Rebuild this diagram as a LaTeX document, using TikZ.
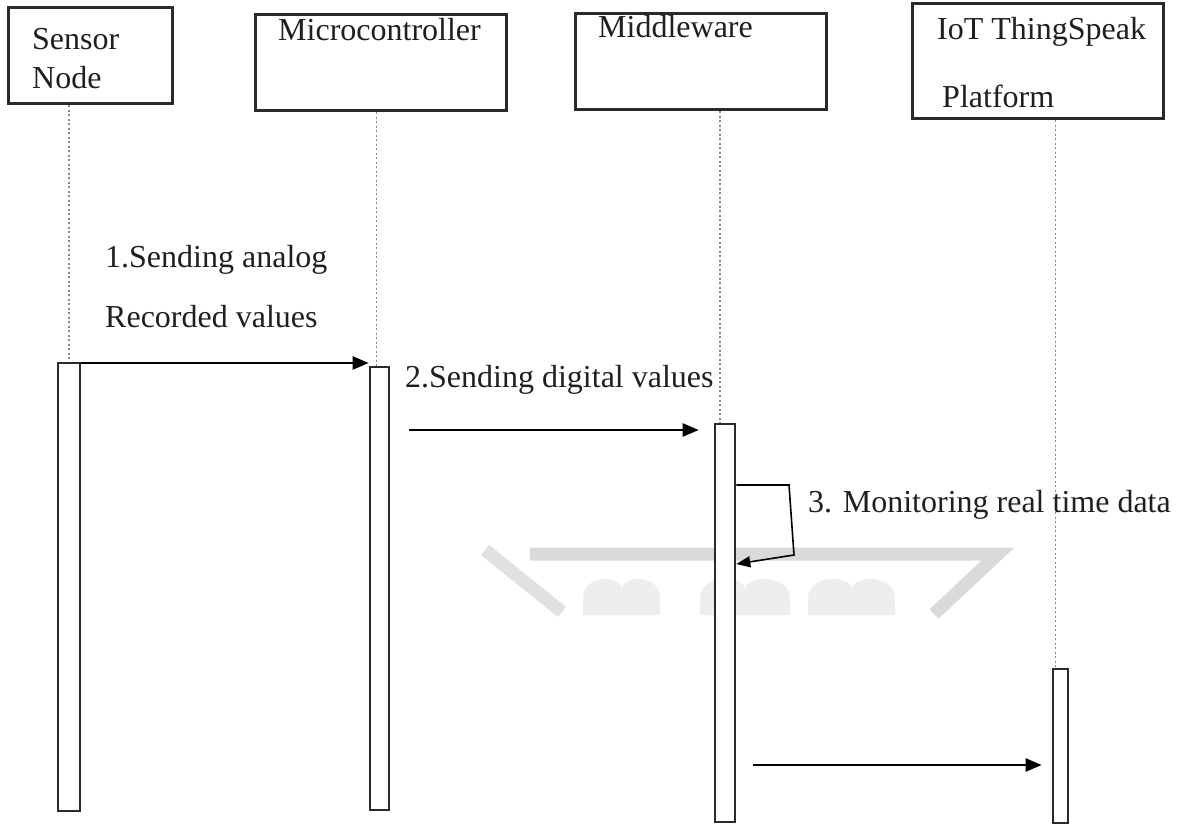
\documentclass[tikz,border=0pt]{standalone}
\usepackage{fontspec}
\setmainfont{Liberation Serif}
\usepackage{tikz}
\usetikzlibrary{arrows.meta,positioning,calc}
\definecolor{cLine}{HTML}{2A2A2A}
\definecolor{cLife}{HTML}{8A8A8A}
\definecolor{cMark}{HTML}{DADADA}
\definecolor{cMarkSoft}{HTML}{EEEEEE}
\tikzset{
  obj/.style   = {rectangle, draw=cLine, fill=white, line width=3pt, inner sep=0pt},
  bar/.style   = {rectangle, draw=cLine, fill=white, line width=2.6pt, inner sep=0pt},
  lbl/.style   = {anchor=base west, inner sep=0pt, text=black!88,
                  font=\fontsize{32}{38}\selectfont},
  life/.style  = {draw=cLife, line width=1.3pt, dash pattern=on 2pt off 2.5pt},
  msg/.style   = {-{Triangle[length=16pt,width=13pt]}, draw=black, line width=2.4pt},
  self/.style  = {-{Triangle[length=14pt,width=11pt]}, draw=black, line width=1.6pt},
  wm/.style    = {draw=cMark, line width=13pt},
  wmc/.style   = {fill=cMarkSoft},
}

\begin{document}
\begin{tikzpicture}[x=1pt, y=-1pt]
  \useasboundingbox (0,0) rectangle (1181,826);

  % faint watermark
  \draw[wm, draw=cMark!80] (485,550) -- (562,612);
  \draw[wm] (530,554) -- (998,554) -- (934,614);
  \foreach \a/\m/\b in {583/622/660, 700/745/790, 808/852/895}
    \fill[wmc] (\a,615) -- (\a,598) .. controls (\a,574) and (\m,574) .. (\m,590)
               .. controls (\m,574) and (\b,574) .. (\b,598) -- (\b,615) -- cycle;

  \node[obj, minimum width=164pt, minimum height=96pt]  (sensor) at (90,56)      {};
  \node[obj, minimum width=251pt, minimum height=96pt]  (micro)  at (380.5,63)   {};
  \node[obj, minimum width=251pt, minimum height=96pt]  (middle) at (700.5,62)   {};
  \node[obj, minimum width=251pt, minimum height=115pt] (thing)  at (1037.5,61.5) {};

  \node[lbl] (tS1) at (32,50)   {Sensor};
  \node[lbl] (tS2) at (32,89)   {Node};
  \node[lbl] (tM)  at (278,41)  {Microcontroller};
  \node[lbl] (tW)  at (598,38)  {Middleware};
  \node[lbl] (tT1) at (937,40)  {IoT ThingSpeak};
  \node[lbl] (tT2) at (942,108) {Platform};

  \node[bar, minimum width=22pt, minimum height=448pt] (actS) at (69,587)     {};
  \node[bar, minimum width=19pt, minimum height=443pt] (actM) at (379.5,588.5) {};
  \node[bar, minimum width=20pt, minimum height=398pt] (actW) at (725,623)    {};
  \node[bar, minimum width=15pt, minimum height=154pt] (actT) at (1060.5,746) {};

  \draw[life] (actS.north |- sensor.south) -- (actS.north);
  \draw[life] ([xshift=-3pt]actM.north |- micro.south)  -- ([xshift=-3pt]actM.north);
  \draw[life] ([xshift=-5pt]actW.north |- middle.south) -- ([xshift=-5pt]actW.north);
  \draw[life] ([xshift=-5pt]actT.north |- thing.south)  -- ([xshift=-5pt]actT.north);

  \coordinate (y1) at (0,363);
  \coordinate (y2) at (0,430);
  \coordinate (y4) at (0,765);
  \coordinate (sa) at (789,485);
  \coordinate (sb) at (794,555);
  \coordinate (sc) at (0,564);

  \draw[msg] (actS.east |- y1) -- (actM.west |- y1);
  \draw[msg, shorten <=19pt, shorten >=15pt] (actM.east |- y2) -- (actW.west |- y2);
  \draw[self] (actW.east |- sa) -- (sa) -- (sb) -- (actW.east |- sc);
  \draw[msg, shorten <=17pt, shorten >=10pt] (actW.east |- y4) -- (actT.west |- y4);

  \node[lbl] (m1a) at (105,268) {1.Sending analog};
  \node[lbl] (m1b) at (105,327) {Recorded values};
  \node[lbl] (m2)  at (405,387) {2.Sending digital values};
  \node[lbl] (m3)  at (808,512) {3. Monitoring real time data};
\end{tikzpicture}
\end{document}
